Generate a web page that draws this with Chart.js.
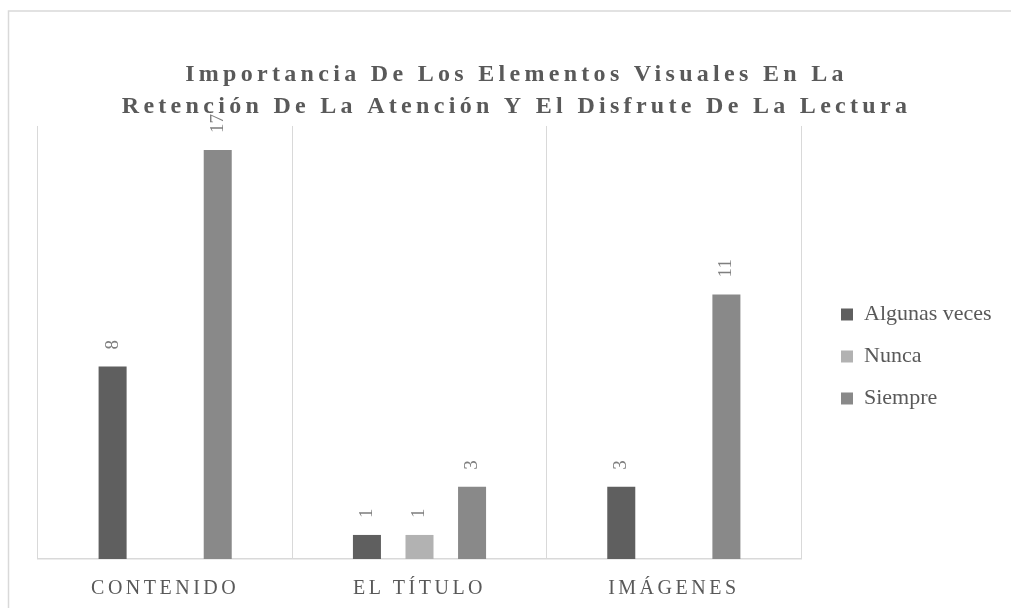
<!DOCTYPE html>
<html>
<head>
<meta charset="utf-8">
<script src="https://cdn.jsdelivr.net/npm/chart.js@4/dist/chart.umd.min.js"></script>
<style>
  html, body { margin: 0; padding: 0; background: #ffffff; }
  #wrap { position: relative; width: 1011px; height: 608px; }
</style>
</head>
<body>
<div id="wrap"><canvas id="c"></canvas></div>
<script>
const categories = ["CONTENIDO", "EL TÍTULO", "IMÁGENES"];
const seriesNames = ["Algunas veces", "Nunca", "Siempre"];
const algunasVeces = [8, 1, 3];
const nunca = [null, 1, null];
const siempre = [17, 3, 11];
const seriesColors = ["#5f5f5f", "#b2b2b2", "#898989"];
const titleLines = ["Importancia De Los Elementos Visuales En La", "Retención De La Atención Y El Disfrute De La Lectura"];

const SERIF = "'Liberation Serif', 'Times New Roman', serif";

const frameAndSpacing = {
  id: 'frameAndSpacing',
  beforeLayout(chart) {
    const lg = chart.legend;
    if (lg && !lg.__fit) {
      const origFit = lg.fit.bind(lg);
      lg.fit = function () { origFit(); this.width = 210; };
      lg.__fit = true;
    }
  },
  beforeDraw(chart) {
    const ctx = chart.ctx;
    ctx.save();
    ctx.fillStyle = '#ffffff';
    ctx.fillRect(0, 0, chart.width, chart.height);
    ctx.strokeStyle = '#d9d9d9';
    ctx.lineWidth = 1.5;
    ctx.strokeRect(8.5, 11, chart.width + 10, chart.height + 10);
    ctx.restore();
    const tb = chart.titleBlock;
    if (tb && !tb.__ls) {
      const orig = tb.draw.bind(tb);
      tb.draw = function (area) {
        const c = chart.ctx; c.save(); c.translate(-8, 0); c.letterSpacing = '4.3px'; orig(area); c.restore();
      };
      tb.__ls = true;
    }
    const sx = chart.scales.x;
    if (sx && !sx.__ls) {
      const origL = sx.drawLabels.bind(sx);
      sx.drawLabels = function (area) {
        const c = chart.ctx; c.save(); c.letterSpacing = '3.5px'; origL(area); c.restore();
      };
      sx.__ls = true;
    }
  },
  afterLayout(chart) {
    const lg = chart.legend;
    if (lg) {
      lg.left += 20; lg.right += 20;
      lg.top += 14; lg.bottom += 14;
    }
  }
};

const barLabels = {
  id: 'barLabels',
  afterDatasetsDraw(chart) {
    const ctx = chart.ctx;
    ctx.save();
    ctx.font = "19px " + SERIF;
    ctx.fillStyle = '#7f7f7f';
    ctx.textAlign = 'left';
    ctx.textBaseline = 'middle';
    chart.data.datasets.forEach((ds, di) => {
      const meta = chart.getDatasetMeta(di);
      meta.data.forEach((el, i) => {
        const v = ds.data[i];
        if (v === null || v === undefined) return;
        ctx.save();
        ctx.translate(el.x, el.y - 17);
        ctx.rotate(-Math.PI / 2);
        ctx.fillText(String(v), 0, 0);
        ctx.restore();
      });
    });
    ctx.restore();
  }
};

new Chart(document.getElementById('c'), {
  type: 'bar',
  data: {
    labels: categories,
    datasets: [
      { label: seriesNames[0], data: algunasVeces, backgroundColor: seriesColors[0] },
      { label: seriesNames[1], data: nunca, backgroundColor: seriesColors[1] },
      { label: seriesNames[2], data: siempre, backgroundColor: seriesColors[2] }
    ]
  },
  options: {
    responsive: true,
    maintainAspectRatio: false,
    animation: false,
    devicePixelRatio: 1,
    datasets: { bar: { categoryPercentage: 0.62, barPercentage: 0.533 } },
    layout: { padding: { left: 38, top: 11, right: 0, bottom: 9 } },
    plugins: {
      title: {
        display: true,
        text: titleLines,
        color: '#595959',
        font: { family: SERIF, size: 24, weight: 'bold', lineHeight: 1.333 },
        padding: { top: 48, bottom: 3 }
      },
      legend: {
        position: 'right',
        fullSize: false,
        labels: {
          color: '#595959',
          font: { family: SERIF, size: 22 },
          boxWidth: 12,
          boxHeight: 12,
          padding: 20
        }
      },
      tooltip: { enabled: false }
    },
    scales: {
      x: {
        grid: { display: true, offset: true, color: '#d9d9d9', drawTicks: false },
        border: { display: true, color: '#d9d9d9', width: 1.5 },
        ticks: { color: '#595959', font: { family: SERIF, size: 20 }, padding: 18 },
        afterFit(scale) { scale.height = 40; }
      },
      y: {
        display: false,
        min: 0,
        max: 18
      }
    }
  },
  plugins: [frameAndSpacing, barLabels]
});
</script>
</body>
</html>
